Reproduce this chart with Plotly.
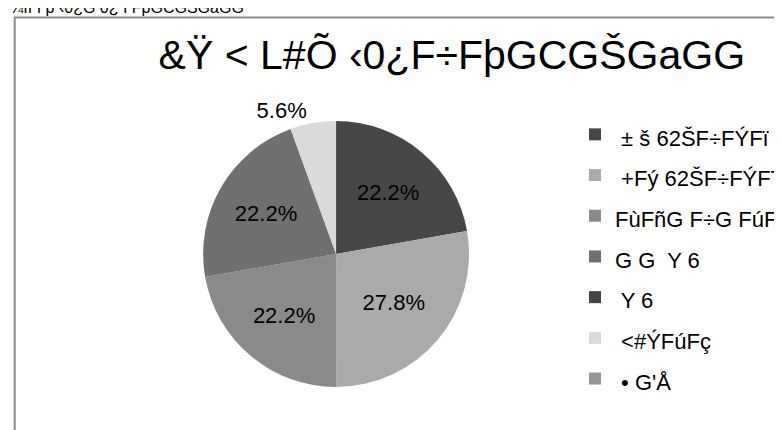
import plotly.graph_objects as go

# ---- data ----
labels = [" ± š 62ŠF÷FÝFï", " +Fý 62ŠF÷FÝFT", "FùFñG F÷G FúF", "G G  Y 6", " Y 6", " <#ÝFúFç", " • G'Å"]
values = [4, 5, 4, 4, 0, 1, 0]
colors = ["#474747", "#aaaaaa", "#8a8a8a", "#707070", "#454545", "#dadada", "#969696"]
text_pos = ["inside", "inside", "inside", "inside", "inside", "outside", "inside"]
chart_title = "&Ÿ < L#Õ ‹0¿F÷FþGCGŠGaGG"
header_text = "¼ÍÎ Ï þ ‹0¿G 0¿ Ï FþGCGŠGaGG"

W, H = 782, 430
FONT = "Liberation Sans, Arial, sans-serif"

templ = ["%{percent:.1%}" if v > 0 else "" for v in values]
leg_labels = ['<span style="font-size:22px">' + l + '</span>' for l in labels]

cx, cy, half = 343, 246, 139

fig = go.Figure(go.Pie(
    labels=leg_labels,
    values=values,
    sort=False,
    direction="clockwise",
    rotation=0,
    marker=dict(colors=colors, line=dict(width=0)),
    texttemplate=templ,
    textposition=text_pos,
    insidetextorientation="horizontal",
    textfont=dict(family=FONT, size=22, color="#000000"),
    hoverinfo="label+percent",
    domain=dict(x=[(cx - half) / W, (cx + half) / W], y=[(H - cy - half) / H, (H - cy + half) / H]),
    showlegend=True,
))

fig.update_layout(
    width=W, height=H,
    margin=dict(l=0, r=0, t=0, b=0),
    paper_bgcolor="#ffffff",
    plot_bgcolor="#ffffff",
    font=dict(family=FONT, color="#000000"),
    title=dict(text=chart_title, font=dict(family=FONT, size=41, color="#000000"),
               x=464 / W, xanchor="center", xref="paper",
               y=1 - 47 / H, yanchor="middle", yref="container"),
    legend=dict(x=593 / W, xanchor="left", y=1 - 101 / H, yanchor="top",
                font=dict(family=FONT, size=29, color="#000000"),
                bgcolor="rgba(0,0,0,0)", borderwidth=0),
    shapes=[dict(type="rect", xref="paper", yref="paper",
                 x0=7 / W, x1=1.05, y0=-0.05, y1=1 - 9.5 / H,
                 line=dict(color="#8c8c8c", width=2), layer="below")],
    annotations=[dict(text=header_text, xref="paper", yref="paper",
                      x=0, xanchor="left", y=1 + 1 / H, yanchor="middle",
                      showarrow=False,
                      font=dict(family=FONT, size=16, color="#000000"))],
)

fig.write_html("out.html")
